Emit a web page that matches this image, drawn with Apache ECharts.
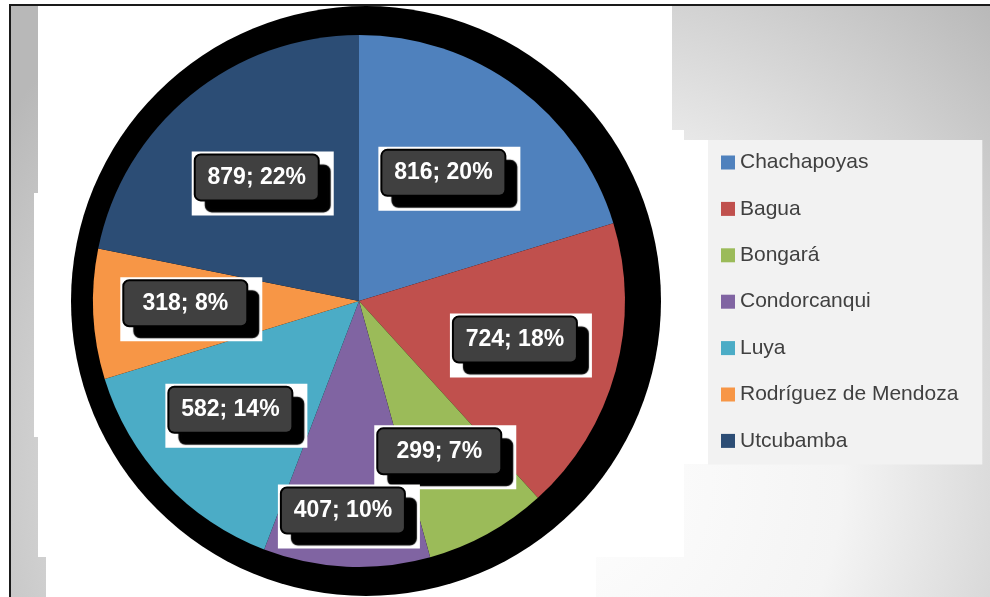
<!DOCTYPE html>
<html>
<head>
<meta charset="utf-8">
<script src="https://cdn.jsdelivr.net/npm/echarts@6/dist/echarts.min.js"></script>
<style>
  html, body { margin: 0; padding: 0; background: #fff; }
  #chart { width: 990px; height: 597px; }
</style>
</head>
<body>
<div id="chart"></div>
<script>
// provincias de Amazonas
var categories = ["Chachapoyas", "Bagua", "Bongará", "Condorcanqui", "Luya", "Rodríguez de Mendoza", "Utcubamba"];
var values = [816, 724, 299, 407, 582, 318, 879];
var colors = ["#4f81bd", "#c0504d", "#9bbb59", "#8064a2", "#4bacc6", "#f79646", "#2c4d75"];

// distancia de cada etiqueta al centro (fraccion del radio), como en Excel "mejor ajuste"
var labelDist = [0.56, 0.62, 0.66, 0.8, 0.62, 0.62, 0.56];

var total = values.reduce(function (a, b) { return a + b; }, 0);
var pieData = categories.map(function (name, i) {
  return { name: name, value: values[i], itemStyle: { color: colors[i] } };
});

// angulo medio de cada sector (desde arriba, sentido horario)
var midAngles = [];
var acc = 0;
values.forEach(function (v) {
  midAngles.push((acc + v / 2) / total * Math.PI * 2);
  acc += v;
});

var cx = 359, cy = 301, R = 266;

var myChart = echarts.init(document.getElementById('chart'));
var option = {
  animation: false,
  graphic: [
    {
      // fondo gris del area del grafico
      type: 'rect', z: -10,
      shape: { x: 10, y: 5, width: 980, height: 592 },
      style: {
        fill: new echarts.graphic.RadialGradient(0.55, 0.8, 1.1, [
          { offset: 0, color: '#ffffff' },
          { offset: 0.45, color: '#f4f4f4' },
          { offset: 1, color: '#b8b8b8' }
        ])
      }
    },
    { type: 'rect', z: -9, shape: { x: 38, y: 6, width: 634, height: 124 }, style: { fill: '#fff' } },
    { type: 'rect', z: -9, shape: { x: 38, y: 130, width: 646, height: 427 }, style: { fill: '#fff' } },
    { type: 'rect', z: -9, shape: { x: 684, y: 140, width: 24, height: 324 }, style: { fill: '#fff' } },
    { type: 'rect', z: -9, shape: { x: 34, y: 193, width: 100, height: 244 }, style: { fill: '#fff' } },
    { type: 'rect', z: -9, shape: { x: 46, y: 437, width: 550, height: 160 }, style: { fill: '#fff' } },
    { type: 'line', z: -8, shape: { x1: 9, y1: 5, x2: 990, y2: 5 }, style: { stroke: '#1a1a1a', lineWidth: 2 } },
    { type: 'line', z: -8, shape: { x1: 10, y1: 5, x2: 10, y2: 597 }, style: { stroke: '#1a1a1a', lineWidth: 2 } }
  ],
  legend: {
    orient: 'vertical',
    left: 708,
    top: 140,
    padding: [12, 24, 13, 13],
    backgroundColor: '#f2f2f2',
    icon: 'rect',
    itemWidth: 14,
    itemHeight: 14,
    itemGap: 25.4,
    textStyle: { color: '#404040', fontSize: 21, fontFamily: 'Liberation Sans' },
    data: categories
  },
  series: [
    {
      // sombra negra detras del pastel
      type: 'pie',
      silent: true,
      center: [366, 301],
      radius: 295,
      z: 1,
      label: { show: false },
      labelLine: { show: false },
      itemStyle: { color: '#000' },
      data: [{ value: 1, name: '' }]
    },
    {
      name: 'Provincias',
      type: 'pie',
      center: [cx, cy],
      radius: R,
      startAngle: 90,
      clockwise: true,
      z: 2,
      itemStyle: { borderWidth: 0 },
      label: {
        show: true,
        position: 'inside',
        backgroundColor: '#fff',
        padding: [4, 16, 16, 4],
        formatter: function (p) {
          return '{b|' + p.value + '; ' + Math.round(p.value / total * 100) + '%}';
        },
        rich: {
          b: {
            color: '#fff',
            fontSize: 23,
            fontWeight: 'bold',
            fontFamily: 'Liberation Sans',
            backgroundColor: '#404040',
            borderColor: '#000',
            borderWidth: 2,
            borderRadius: 5,
            width: 122,
            height: 44,
            align: 'center',
            shadowColor: '#000',
            shadowBlur: 1,
            shadowOffsetX: 11,
            shadowOffsetY: 11
          }
        }
      },
      labelLine: { show: false },
      labelLayout: function (params) {
        var i = params.dataIndex;
        var a = midAngles[i];
        var k = (labelDist[i] - 0.5) * R;
        return { dx: k * Math.sin(a), dy: -k * Math.cos(a) };
      },
      data: pieData
    }
  ]
};
myChart.setOption(option);
window.addEventListener('resize', function () { myChart.resize(); });
</script>
</body>
</html>
